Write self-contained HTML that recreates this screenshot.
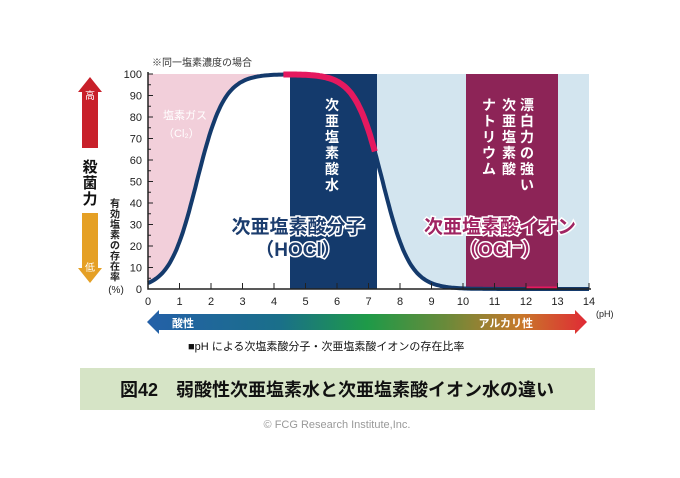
<!DOCTYPE html>
<html><head><meta charset="utf-8"><style>
html,body{margin:0;padding:0;background:#fff;}
body{width:680px;height:473px;overflow:hidden;position:relative;font-family:"Liberation Sans","Noto Sans CJK JP",sans-serif;}
svg text{font-family:"Liberation Sans","Noto Sans CJK JP",sans-serif;}
</style></head><body>
<svg id="s" width="680" height="473" viewBox="0 0 680 473" xmlns="http://www.w3.org/2000/svg">
<defs>
<linearGradient id="g" x1="0" x2="1" y1="0" y2="0">
<stop offset="0" stop-color="#2460a8"/><stop offset="0.3" stop-color="#1a6f8a"/>
<stop offset="0.5" stop-color="#1e9a48"/><stop offset="0.68" stop-color="#6a8a3a"/>
<stop offset="0.85" stop-color="#c8782a"/><stop offset="1" stop-color="#e02a35"/>
</linearGradient>
</defs>
<text x="152" y="66" font-size="10" fill="#333">※同一塩素濃度の場合</text>
<g id="plot"></g>
<!-- left arrows -->
<polygon points="90,77 102,92 98,92 98,148 82,148 82,92 78,92" fill="#c8202a"/>
<text x="90" y="99" font-size="10" fill="#fff" text-anchor="middle">高</text>
<text x="90" y="172" font-size="15" font-weight="bold" fill="#111" text-anchor="middle">殺</text>
<text x="90" y="188" font-size="15" font-weight="bold" fill="#111" text-anchor="middle">菌</text>
<text x="90" y="204" font-size="15" font-weight="bold" fill="#111" text-anchor="middle">力</text>
<polygon points="82,213 98,213 98,268 102,268 90,283 78,268 82,268" fill="#e5a025"/>
<text x="90" y="271" font-size="10" fill="#fff" text-anchor="middle">低</text>
<g font-size="10" fill="#222" text-anchor="middle" font-weight="bold">
<text x="115" y="207">有</text><text x="115" y="217.5">効</text><text x="115" y="228">塩</text><text x="115" y="238.5">素</text><text x="115" y="249">の</text><text x="115" y="259.5">存</text><text x="115" y="270">在</text><text x="115" y="280.5">率</text>
</g>
<text x="116" y="293" font-size="10" fill="#222" text-anchor="middle">(%)</text>
<!-- gradient arrow -->
<polygon points="147,322 159,310 159,314 575,314 575,310 587,322 575,334 575,330 159,330 159,334" fill="url(#g)"/>
<text x="172" y="327" font-size="11" font-weight="bold" fill="#fff">酸性</text>
<text x="533" y="327" font-size="11" font-weight="bold" fill="#fff" text-anchor="end">アルカリ性</text>
<text x="596" y="317" font-size="9" fill="#222">(pH)</text>
<text x="188" y="350" font-size="11" fill="#111">■pH による次塩素酸分子・次亜塩素酸イオンの存在比率</text>
<!-- title -->
<rect x="80" y="368" width="515" height="42" fill="#d6e4c6"/>
<text x="337" y="396" font-size="18" font-weight="bold" fill="#111" text-anchor="middle">図42　弱酸性次亜塩素水と次亜塩素酸イオン水の違い</text>
<text x="337" y="428" font-size="11" fill="#999" text-anchor="middle">© FCG Research Institute,Inc.</text>
</svg>
<script>
var X=function(p){return 148+p*31.5;},Y=function(v){return 289-v*2.15;};
function f(p){return 100/(1+Math.pow(10,1.55-p))/(1+Math.pow(10,p-7.45));}
function pts(a,b){var s=[];for(var p=a;p<=b+1e-9;p+=0.05){s.push(X(p).toFixed(1)+","+Y(f(p)).toFixed(1));}return s;}
var h='';
h+='<rect x="148" y="74" width="441" height="215" fill="#fff"/>';
h+='<polygon points="148,289 148,74 '+X(4.5)+',74 '+pts(0,4.5).reverse().join(' ')+'" fill="#f2cfda"/>';
h+='<polygon points="'+pts(7.2,14).join(' ')+' 589,74 '+X(7.2)+',74" fill="#d3e5ef"/>';
h+='<rect x="466" y="74" width="92" height="215" fill="#8d2457"/>';
h+='<rect x="290" y="74" width="87" height="215" fill="#143a6c"/>';
h+='<polyline points="'+pts(0,14).join(' ')+'" fill="none" stroke="#143a6c" stroke-width="4"/>';
h+='<polyline points="'+pts(4.3,7.2).join(' ')+'" fill="none" stroke="#e5195f" stroke-width="6"/>';
h+='<line x1="526" y1="288" x2="558" y2="288" stroke="#e5195f" stroke-width="3"/>';
h+='<polyline points="148,72 148,289 591,289" fill="none" stroke="#222" stroke-width="1.5"/>';
for(var v=0;v<=100;v+=10){h+='<line x1="148" x2="153" y1="'+Y(v)+'" y2="'+Y(v)+'" stroke="#222"/>';h+='<text x="142" y="'+(Y(v)+4)+'" font-size="11" text-anchor="end" fill="#222">'+v+'</text>';if(v<100)h+='<line x1="148" x2="151" y1="'+Y(v+5)+'" y2="'+Y(v+5)+'" stroke="#222"/>';}
for(var p=0;p<=14;p++){h+='<line y1="289" y2="283" x1="'+X(p)+'" x2="'+X(p)+'" stroke="#222"/>';h+='<text y="305" x="'+X(p)+'" font-size="11" text-anchor="middle" fill="#222">'+p+'</text>';}
h+='<text x="163" y="119" font-size="11" fill="#fff">塩素ガス</text><text x="163" y="137" font-size="11" fill="#fff">（Cl₂）</text>';
var vt=function(x,y,s,c,sz){var o='';for(var i=0;i<s.length;i++)o+='<text x="'+x+'" y="'+(y+i*(sz+2))+'" font-size="'+sz+'" font-weight="bold" fill="'+c+'" text-anchor="middle">'+s[i]+'</text>';return o;};
h+=vt(332,110,'次亜塩素酸水','#fff',14);
h+=vt(527,110,'漂白力の強い','#fff',14);
h+=vt(509,110,'次亜塩素酸','#fff',14);
h+=vt(489,110,'ナトリウム','#fff',14);
h+='<g font-size="19" font-weight="bold" text-anchor="middle" stroke="#fff" stroke-width="3" paint-order="stroke">';
h+='<text x="298" y="233" fill="#1c3d6e">次亜塩素酸分子</text><text x="298" y="256" fill="#1c3d6e">（HOCl）</text>';
h+='<text x="500" y="233" fill="#a02462">次亜塩素酸イオン</text><text x="500" y="256" fill="#a02462">（OCl⁻）</text></g>';
document.getElementById('plot').innerHTML=h;
</script>
</body></html>
